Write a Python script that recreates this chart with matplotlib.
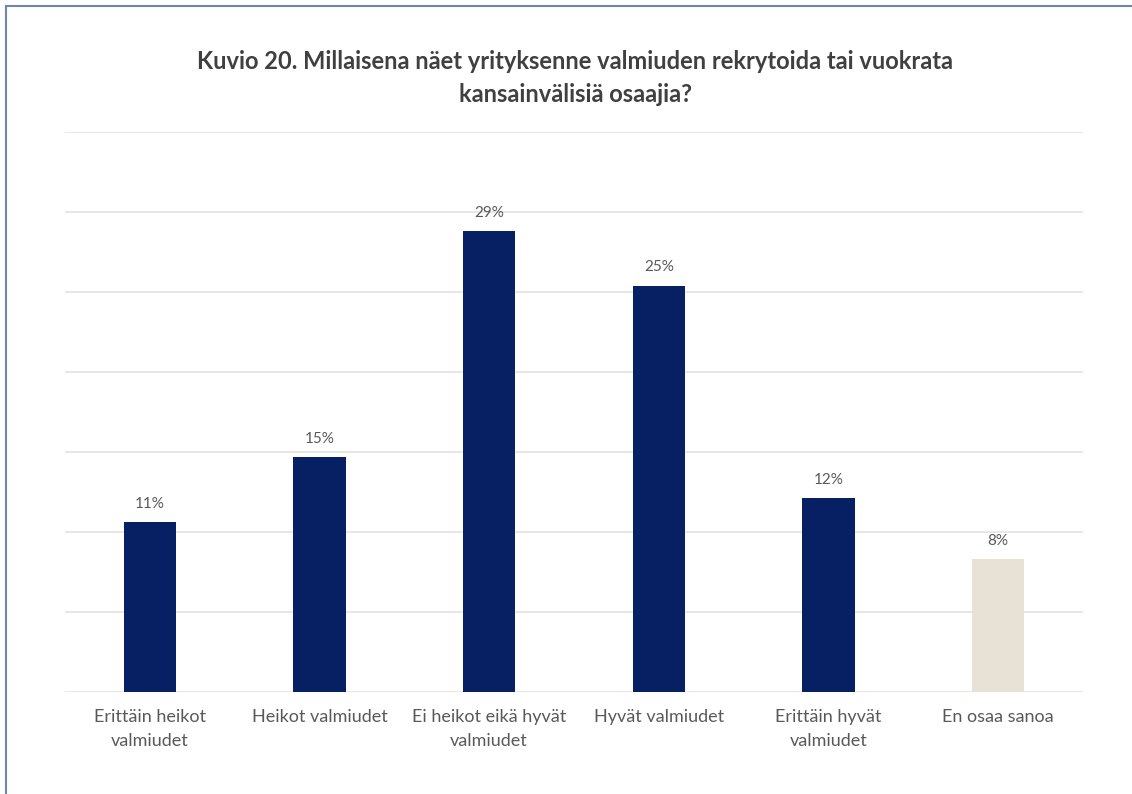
import matplotlib.pyplot as plt
from matplotlib.lines import Line2D

categories = ['Erittäin heikot\nvalmiudet', 'Heikot valmiudet', 'Ei heikot eikä hyvät\nvalmiudet',
              'Hyvät valmiudet', 'Erittäin hyvät\nvalmiudet', 'En osaa sanoa']
values = [10.6, 14.7, 28.8, 25.4, 12.1, 8.3]
colors = ['#062063', '#062063', '#062063', '#062063', '#062063', '#e8e1d6']
title = 'Kuvio 20. Millaisena näet yrityksenne valmiuden rekrytoida tai vuokrata\nkansainvälisiä osaajia?'

plt.rcParams['font.family'] = ['Lato', 'DejaVu Sans']

fig = plt.figure(figsize=(11.32, 7.94), dpi=100)
ax = fig.add_axes([0.0574, 0.1285, 0.8993, 0.7053])

x = range(len(categories))
bars = ax.bar(x, values, width=0.31, color=colors, zorder=3)
for b, v in zip(bars, values):
    ax.text(b.get_x() + b.get_width() / 2, v + 0.7, f'{v:.0f}%', ha='center', va='bottom',
            fontsize=11, color='#595959')

ax.set_xlim(-0.5, 5.5)
ax.set_ylim(0, 35)
ax.set_yticks(range(0, 36, 5))
ax.yaxis.grid(True, color='#e3e3e3', linewidth=1.2, zorder=0)
ax.tick_params(axis='y', left=False, labelleft=False)
ax.tick_params(axis='x', length=0, pad=12, labelsize=13, labelcolor='#595959')
ax.set_xticks(list(x))
ax.set_xticklabels(categories, linespacing=1.65)
for s in ax.spines.values():
    s.set_visible(False)

fig.text(0.508, 0.902, title, ha='center', va='center', fontsize=17, fontweight='bold',
         color='#404040', linespacing=1.5)

# frame edges of the cropped screenshot
fig.add_artist(Line2D([0.005, 1.0], [0.992, 0.992], color='#6f86b0', linewidth=1.5, transform=fig.transFigure))
fig.add_artist(Line2D([0.0055, 0.0055], [0.0, 0.992], color='#6f86b0', linewidth=1.5, transform=fig.transFigure))

fig.savefig('out.png')
